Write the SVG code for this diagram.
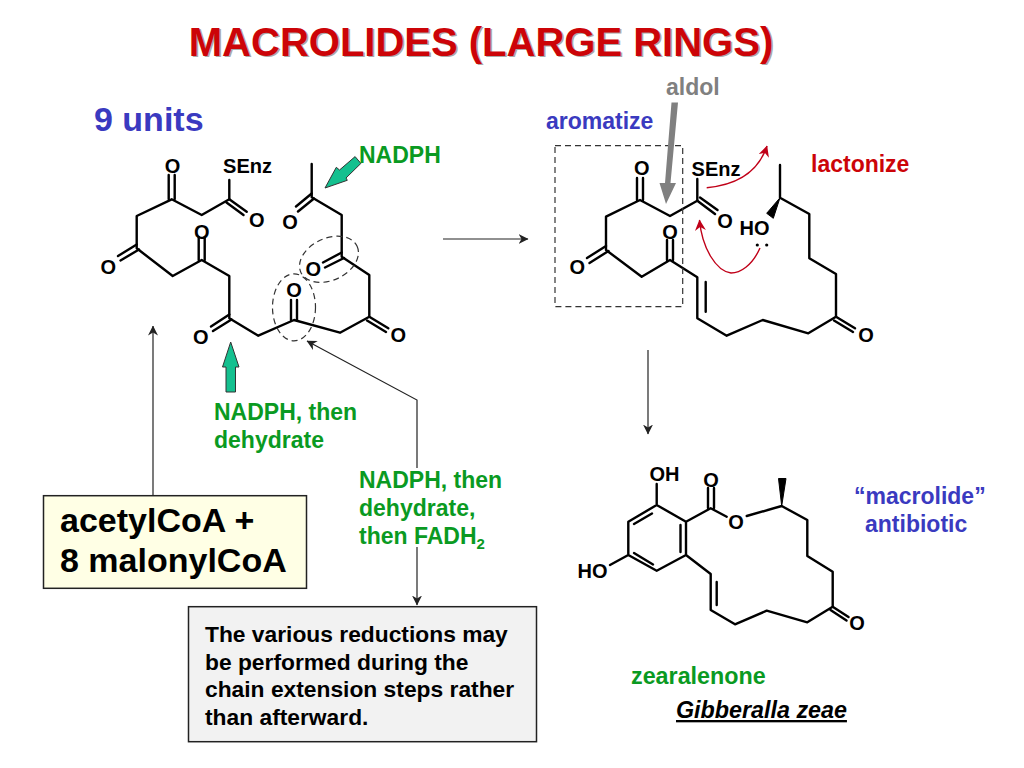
<svg xmlns="http://www.w3.org/2000/svg" width="1024" height="768" viewBox="0 0 1024 768">
<style>
text{font-family:"Liberation Sans",Arial,sans-serif;font-weight:bold}
.b{fill:none;stroke:#000;stroke-width:2.4;stroke-linejoin:round;stroke-linecap:round}
.a{font-size:20px;fill:#000;text-anchor:middle}
.g{font-size:23px;fill:#0a9a22}
.u{fill:#3a3ac0}
.l{font-size:22.8px;fill:#000}
.t{fill:none;stroke:#222;stroke-width:1.2}
.ga{fill:#14c08f;stroke:#333;stroke-width:1}
.d{fill:none;stroke:#333;stroke-width:1.2;stroke-dasharray:6 4}
.r{fill:none;stroke:#c00018;stroke-width:1.4}
</style>
<defs>
<marker id="h" viewBox="0 0 10 10" refX="9.5" refY="5" markerWidth="10" markerHeight="10" markerUnits="userSpaceOnUse" orient="auto"><path d="M0 0L10 5L0 10L3 5Z" fill="#222"/></marker>
<marker id="rh" viewBox="0 0 10 10" refX="9.5" refY="5" markerWidth="11" markerHeight="11" markerUnits="userSpaceOnUse" orient="auto"><path d="M0 0L10 5L0 10L3 5Z" fill="#c00018"/></marker>
</defs>
<rect width="1024" height="768" fill="#fff"/>
<g id="title">
<text x="482.5" y="57" font-size="40" text-anchor="middle" fill="#aaa">MACROLIDES (LARGE RINGS)</text>
<text x="481" y="55.5" font-size="40" text-anchor="middle" fill="#cc0408">MACROLIDES (LARGE RINGS)</text>
</g>
<g id="units"><text x="94" y="131" font-size="34" class="u">9 units</text></g>
<g id="polyketide">
<path class="b" d="M229.3 180V199.3L201.7 215L171.7 199.3L136.7 216V248.3L172.7 276L201.7 260L229.3 276V318.3L258.3 335.7L294 320L340 332.7L369.3 316.7V275L341.7 256.7V215L311.7 197.3V164"/>
<path class="b" d="M229.3 199.3L246.7 211.7M226.5 202.5L243.5 215M168.7 199V175M174.7 199V175M136.7 244.5L118 256M139 249.5L120.5 260.5M198.7 260V237M204.7 260V237M229.3 314.5L211 326.5M231.5 319.5L213 331M291 320V300M297 320V300M369.3 316.7L388.3 328.3M367 320.5L386 332M341.7 252.5L323 262.5M344 258L325 267.5M311.7 193.5L296 206.5M314 198.5L298 211.5"/>
<text class="a" x="172.5" y="173">O</text>
<text class="a" x="247.5" y="173">SEnz</text>
<text class="a" x="256.7" y="227">O</text>
<text class="a" x="108.3" y="274">O</text>
<text class="a" x="201.7" y="239">O</text>
<text class="a" x="200.7" y="344">O</text>
<text class="a" x="294" y="297">O</text>
<text class="a" x="398.3" y="342">O</text>
<text class="a" x="313.3" y="275.5">O</text>
<text class="a" x="290" y="229">O</text>
<ellipse class="d" cx="329" cy="259.3" rx="31" ry="21" transform="rotate(-25 329 259.3)"/>
<ellipse class="d" cx="294" cy="307.3" rx="21.5" ry="33.5"/>
<path class="ga" d="M360.9 163.4L346 178L347.3 180.3L325 188L336.3 167.3L339.5 170L355.1 156.6Z"/>
<path class="ga" d="M226 392V367H222.5L230.7 342L239 367H235.5V392Z"/>
</g>
<g id="labels-left">
<text class="g" x="359" y="163">NADPH</text>
<text class="g" x="214" y="420">NADPH, then</text>
<text class="g" x="214" y="447.5">dehydrate</text>
<text class="g" x="359" y="488">NADPH, then</text>
<text class="g" x="359" y="516">dehydrate,</text>
<text class="g" x="359" y="544">then FADH<tspan font-size="15" dy="5">2</tspan></text>
</g>
<g id="precursors">
<rect x="43.5" y="495.7" width="263" height="92.6" fill="#ffffe5" stroke="#222" stroke-width="1.5"/>
<text x="60" y="532" font-size="34">acetylCoA +</text>
<text x="60" y="572" font-size="34">8 malonylCoA</text>
</g>
<g id="note">
<rect x="188.5" y="606.7" width="348" height="135" fill="#f2f2f2" stroke="#222" stroke-width="1.5"/>
<text class="l" x="205" y="641.5">The various reductions may</text>
<text class="l" x="205" y="669.5">be performed during the</text>
<text class="l" x="205" y="697">chain extension steps rather</text>
<text class="l" x="205" y="724.5">than afterward.</text>
</g>
<g id="intermediate">
<path class="b" d="M697.3 179V200.7L670 216L640 200L606 216.7V250L641.7 276.7L670 260L697.3 277.3V318.3L726.7 335.7L762.7 320L808.3 333.3L836 316.7V274L809.3 258.3V214L780 197.7V165"/>
<path class="b" d="M697.3 200.7L715 214M700 197.5L717.5 210M637 200V178M643 200V178M606 246L587 258M608.5 251L589.5 263M667 260V240M673 260V240M705.7 282V311.7M836 316.7L855 328.3M834 320.5L853 332"/>
<path d="M780 197.7L766.7 213.3L773.3 218.3Z" fill="#000" stroke="#000"/>
<text class="a" x="641.7" y="175">O</text>
<text class="a" x="716" y="176">SEnz</text>
<text class="a" x="725" y="228">O</text>
<text class="a" x="577.3" y="274">O</text>
<text class="a" x="670" y="239">O</text>
<text class="a" x="866" y="342">O</text>
<text class="a" x="754.5" y="235">HO</text>
<circle cx="757.3" cy="245" r="1.6"/><circle cx="766.7" cy="245" r="1.6"/>
<rect class="d" x="555" y="145.7" width="127.7" height="161"/>
<path d="M671.5 102.5H678L670.5 183L676 183L666 204L659.5 183L665 183Z" fill="#808080"/>
</g>
<g id="labels-right">
<text x="666" y="95" font-size="23" fill="#808080">aldol</text>
<text x="546" y="129" font-size="23" class="u">aromatize</text>
<text x="811" y="172" font-size="23" fill="#cc0408">lactonize</text>
<text x="854" y="504" font-size="23" class="u">“macrolide”</text>
<text x="865" y="532" font-size="23" class="u">antibiotic</text>
<text class="g" x="631" y="684" style="font-size:23.3px">zearalenone</text>
<text x="676" y="718" font-size="23.3" font-style="italic" text-decoration="underline">Gibberalla zeae</text>
</g>
<g id="zearalenone">
<path class="b" d="M656.7 505L686 521.7V555L656.7 570.7L628.3 555V521.7ZM656.7 505V484M628.3 555L610 565M686 521.7L710.7 508.3L726.7 516.7M746.7 516L781.7 506L807.3 520V556L832.7 571.7V606.7L807.3 622.3L766.7 610.7L735 624.3L710.7 610V574L686 555"/>
<path class="b" d="M634 524L652 513.5M680.5 525V552M634 553L653 564.5M708 508V488M714 508V488M716.7 582V605M832.7 606.7L848.5 617M830.5 610L846.5 620.5"/>
<path d="M781.7 506L778.5 478.5H786Z" fill="#000" stroke="#000"/>
<text class="a" x="664.5" y="481">OH</text>
<text class="a" x="592.5" y="578">HO</text>
<text class="a" x="711" y="487">O</text>
<text class="a" x="736" y="529">O</text>
<text class="a" x="857" y="630">O</text>
</g>
<g id="connectors">
<path class="t" marker-end="url(#h)" d="M153 495V326"/>
<path class="t" marker-end="url(#h)" d="M417 468V400L307 341"/>
<path class="t" marker-end="url(#h)" d="M417 547V605"/>
<path class="t" marker-end="url(#h)" d="M443 239H528"/>
<path class="t" marker-end="url(#h)" d="M648 350V434"/>
<path class="r" marker-end="url(#rh)" d="M706.7 187.7C737 185 758 173 767 146"/>
<path class="r" marker-end="url(#rh)" d="M760 248C752 266 740 273 731 273C716 271 702 248 699.5 220"/>
</g>
</svg>
